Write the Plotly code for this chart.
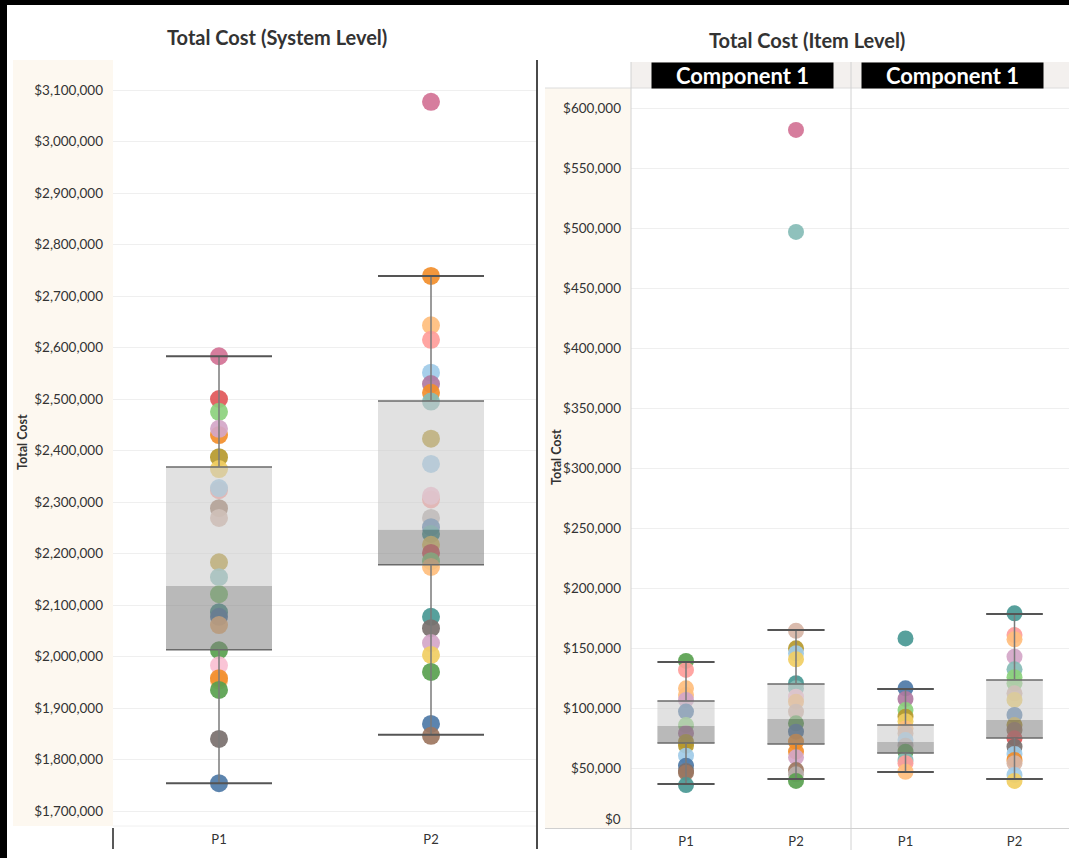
import plotly.graph_objects as go

W, H = 1069, 858

# Tableau 20 palette, one colour per item
TAB20 = ["#4E79A7", "#A0CBE8", "#F28E2B", "#FFBE7D", "#59A14F", "#8CD17D",
         "#B6992D", "#F1CE63", "#499894", "#86BCB6", "#E15759", "#FF9D9A",
         "#79706E", "#BAB0AC", "#D37295", "#FABFD2", "#B07AA1", "#D4A6C8",
         "#9D7660", "#D7B5A6"]

products = ["P1", "P2"]
components = ["Component 1", "Component 1"]

# ---- System level: item (colour key) and total cost ----
sys_p1_item = [14, 10, 5, 2, 17, 6, 7, 11, 1, 18, 19, 6, 9, 5, 8, 0, 3,
               4, 15, 3, 2, 4, 12, 0]
sys_p1_cost = [2583000, 2500000, 2475000, 2430000, 2442000, 2387000, 2364000,
               2323000, 2327000, 2288000, 2269000, 2183000, 2154000, 2121000,
               2086000, 2077000, 2061000, 2012000, 1983000, 1953000, 1958000,
               1935000, 1840000, 1754000]

sys_p2_item = [14, 2, 3, 11, 1, 16, 2, 9, 6, 1, 11, 15, 13, 0, 8, 7, 10,
               5, 3, 8, 12, 17, 7, 4, 0, 18]
sys_p2_cost = [3077000, 2739000, 2643000, 2615000, 2551000, 2529000, 2512000,
               2495000, 2423000, 2374000, 2305000, 2312000, 2269000, 2251000,
               2238000, 2217000, 2201000, 2185000, 2174000, 2077000, 2055000,
               2026000, 2003000, 1970000, 1869000, 1846000]

# box statistics: lower whisker, Q1, median, Q3, upper whisker
sys_box_p1 = [1754000, 2013000, 2137000, 2368000, 2583000]
sys_box_p2 = [1848000, 2178000, 2246000, 2496000, 2739000]

# ---- Item level, first component column ----
c1_p1_item = [4, 11, 3, 3, 17, 0, 5, 16, 6, 6, 1, 0, 12, 18, 8]
c1_p1_cost = [139200, 131700, 116400, 110800, 106700, 97000, 85800, 79000,
              71700, 68600, 60300, 51900, 47500, 46100, 35800]

c1_p2_item = [14, 9, 19, 6, 1, 7, 8, 9, 15, 3, 19, 4, 0, 2, 2, 17, 18, 13, 4]
c1_p2_cost = [581700, 496700, 164400, 149700, 145600, 140600, 120600, 116400,
              109400, 105300, 96900, 87200, 80300, 71900, 63600, 58900, 48300,
              44700, 39200]

c1_box_p1 = [36700, 70800, 85000, 105800, 138300]
c1_box_p2 = [40800, 70000, 90800, 120000, 165000]

# ---- Item level, second component column ----
c2_p1_item = [8, 0, 16, 5, 6, 7, 3, 19, 1, 13, 4, 9, 11, 3]
c2_p1_cost = [158000, 116400, 107500, 98300, 92800, 89000, 83000, 79000,
              73300, 68600, 63600, 56700, 54000, 46900]

c2_p2_item = [8, 11, 3, 17, 9, 5, 5, 19, 7, 0, 6, 18, 10, 12, 1, 2, 19, 1, 7]
c2_p2_cost = [178900, 160800, 157200, 142800, 132200, 125600, 120600, 112200,
              106700, 94200, 85800, 81700, 74700, 67800, 61700, 56700, 54000,
              44200, 39200]

c2_box_p1 = [46700, 62500, 71700, 85800, 115800]
c2_box_p2 = [40800, 75000, 90000, 123300, 178300]


def fx(px):
    return px / W


def fy(px):
    return 1 - px / H


FONT = "Lato"
TXT = "#333333"
CREAM = "#fdf8f0"
GRID = "#efefef"

fig = go.Figure()


def add_points(xa, ya, cat, items, costs, size):
    fig.add_trace(go.Scatter(
        x=[cat] * len(costs), y=costs, xaxis=xa, yaxis=ya, mode="markers",
        marker=dict(size=size, color=[TAB20[i] for i in items], opacity=0.92,
                    line=dict(width=0)),
        showlegend=False, hoverinfo="y"))


add_points("x", "y", products[0], sys_p1_item, sys_p1_cost, 18)
add_points("x", "y", products[1], sys_p2_item, sys_p2_cost, 18)
add_points("x2", "y2", products[0], c1_p1_item, c1_p1_cost, 16)
add_points("x2", "y2", products[1], c1_p2_item, c1_p2_cost, 16)
add_points("x3", "y3", products[0], c2_p1_item, c2_p1_cost, 16)
add_points("x3", "y3", products[1], c2_p2_item, c2_p2_cost, 16)

shapes = []


def add_box(xref, yref, idx, stats, hw):
    lo, q1, med, q3, hi = stats
    base = dict(xref=xref, yref=yref, layer="above")
    shapes.append(dict(type="rect", x0=idx - hw, x1=idx + hw, y0=q1, y1=med,
                       fillcolor="rgba(128,128,128,0.55)", line_width=0, **base))
    shapes.append(dict(type="rect", x0=idx - hw, x1=idx + hw, y0=med, y1=q3,
                       fillcolor="rgba(200,200,200,0.55)", line_width=0, **base))
    for yv in (q1, q3):
        shapes.append(dict(type="line", x0=idx - hw, x1=idx + hw, y0=yv, y1=yv,
                           line=dict(color="#6a6a6a", width=1.5), **base))
    for a, b in ((lo, q1), (q3, hi)):
        shapes.append(dict(type="line", x0=idx, x1=idx, y0=a, y1=b,
                           line=dict(color="#7a7a7a", width=1.5), **base))
    for yv in (lo, hi):
        shapes.append(dict(type="line", x0=idx - hw, x1=idx + hw, y0=yv, y1=yv,
                           line=dict(color="#555555", width=2), **base))


add_box("x", "y", 0, sys_box_p1, 0.25)
add_box("x", "y", 1, sys_box_p2, 0.25)
add_box("x2", "y2", 0, c1_box_p1, 0.26)
add_box("x2", "y2", 1, c1_box_p2, 0.26)
add_box("x3", "y3", 0, c2_box_p1, 0.26)
add_box("x3", "y3", 1, c2_box_p2, 0.26)


def prect(x0, y0, x1, y1, color, layer="below"):
    shapes.append(dict(type="rect", xref="paper", yref="paper",
                       x0=fx(x0), x1=fx(x1), y0=fy(y1), y1=fy(y0),
                       fillcolor=color, line_width=0, layer=layer))


def pline(x0, y0, x1, y1, color, width):
    shapes.append(dict(type="line", xref="paper", yref="paper",
                       x0=fx(x0), x1=fx(x1), y0=fy(y0), y1=fy(y1),
                       line=dict(color=color, width=width), layer="above"))


# axis label panels and facet header
prect(13, 60, 113, 826, CREAM)
prect(545, 88, 631, 828, CREAM)
prect(631, 62, W, 88, "#f3f0ee")
pline(545, 88, W, 88, "#dcdcdc", 1)
pline(631, 62, 631, 850, "#d2d2d2", 1)
pline(851, 62, 851, 850, "#d2d2d2", 1)
pline(545, 828.5, W, 828.5, "#d0d0d0", 1)
pline(113, 826, 537, 826, "#f0f0f0", 1)
# dividers
pline(537, 60, 537, 849, "#4a4a4a", 2)
pline(113, 828, 113, 849, "#222222", 1.5)
# outer frame
prect(0, 0, W, 5, "#000000", "above")
prect(0, 0, 7, H, "#000000", "above")

tickfont = dict(family=FONT, size=13.5, color=TXT)

annotations = [
    dict(text="<b>Total Cost (System Level)</b>", x=fx(277), y=fy(37),
         font=dict(family=FONT, size=20, color=TXT)),
    dict(text="<b>Total Cost (Item Level)</b>", x=fx(807), y=fy(40),
         font=dict(family=FONT, size=20, color=TXT)),
    dict(text="<b>Total Cost</b>", x=fx(22), y=fy(442), textangle=-90,
         font=dict(family=FONT, size=12.5, color=TXT)),
    dict(text="<b>Total Cost</b>", x=fx(556), y=fy(457), textangle=-90,
         font=dict(family=FONT, size=12.5, color=TXT)),
    dict(text="$0", x=fx(623), y=fy(819), xanchor="right",
         font=tickfont),
]
for cx, label in zip((742, 952), components):
    annotations.append(dict(text="<b>%s</b>" % label, x=fx(cx), y=fy(75.5),
                            width=181, height=25, borderpad=0,
                            bgcolor="#000000",
                            font=dict(family=FONT, size=22, color="#ffffff")))
for a in annotations:
    a.setdefault("xref", "paper")
    a.setdefault("yref", "paper")
    a.setdefault("showarrow", False)
    a.setdefault("xanchor", "center")
    a.setdefault("yanchor", "middle")

xcommon = dict(type="category", categoryorder="array", categoryarray=products,
               range=[-0.5, 1.5], showgrid=False, zeroline=False,
               showline=False, ticks="", ticklabelstandoff=4,
               tickfont=dict(family=FONT, size=13, color=TXT),
               fixedrange=True)

right_ticks = list(range(50000, 600001, 50000))

fig.update_layout(
    width=W, height=H, autosize=False,
    margin=dict(l=0, r=0, t=0, b=0),
    paper_bgcolor="white", plot_bgcolor="rgba(0,0,0,0)",
    font=dict(family=FONT, color=TXT),
    xaxis=dict(domain=[fx(113), fx(537)], anchor="y", **xcommon),
    yaxis=dict(domain=[fy(826), fy(60)], anchor="x",
               range=[1670874, 3158252], tick0=0, dtick=100000,
               tickformat="$,.0f", gridcolor=GRID, gridwidth=1,
               zeroline=False, ticks="", ticklabelstandoff=9,
               tickfont=tickfont),
    xaxis2=dict(domain=[fx(631), fx(851)], anchor="y2", **xcommon),
    yaxis2=dict(domain=[fy(828), fy(88)], anchor="x2",
                range=[0, 616667], tickvals=right_ticks,
                tickformat="$,.0f", gridcolor=GRID, gridwidth=1,
                zeroline=False, ticks="", ticklabelstandoff=9,
                tickfont=tickfont),
    xaxis3=dict(domain=[fx(851), 1.0], anchor="y3", **xcommon),
    yaxis3=dict(domain=[fy(828), fy(88)], anchor="x3",
                range=[0, 616667], tickvals=right_ticks,
                showticklabels=False, gridcolor=GRID, gridwidth=1,
                zeroline=False, ticks=""),
    shapes=shapes,
    annotations=annotations,
)

fig.write_html("out.html")
